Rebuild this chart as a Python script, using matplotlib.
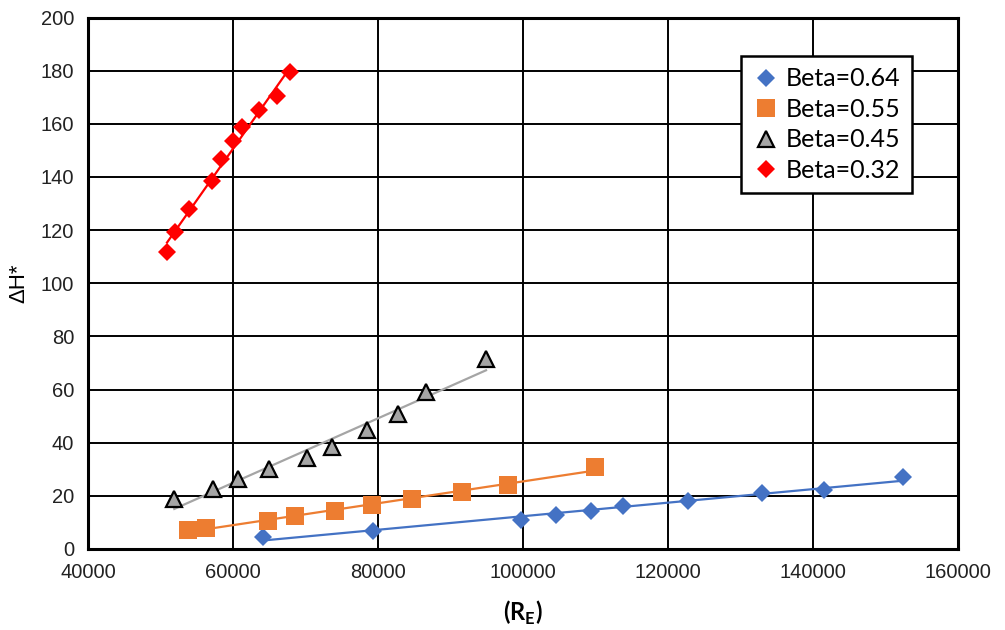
import matplotlib
matplotlib.use("Agg")
import matplotlib.pyplot as plt
import numpy as np

# Reynolds number (R_E) and dH* readings for each beta ratio
re_064 = [64200, 79300, 99700, 104500, 109400, 113800, 122800, 133000, 141500, 152400]
dh_064 = [4.6, 6.9, 10.9, 12.8, 14.4, 16.1, 18.2, 21.0, 22.2, 27.0]

re_055 = [53800, 56300, 64800, 68500, 74100, 79200, 84700, 91600, 98000, 109900]
dh_055 = [7.2, 8.0, 10.6, 12.4, 14.3, 16.6, 18.8, 21.3, 24.0, 31.0]

re_045 = [51900, 57200, 60700, 64900, 70200, 73700, 78500, 82700, 86600, 94900]
dh_045 = [18.7, 22.5, 26.3, 30.2, 34.2, 38.3, 44.6, 50.8, 59.2, 71.4]

re_032 = [50900, 52000, 54000, 57100, 58300, 60000, 61200, 63600, 66100, 67900]
dh_032 = [111.8, 119.3, 127.9, 138.3, 146.8, 153.4, 158.7, 165.3, 170.6, 179.5]

labels = ["Beta=0.64", "Beta=0.55", "Beta=0.45", "Beta=0.32"]

series = [
    (re_064, dh_064, dict(marker="D", ms=9.3, mfc="#4472C4", mec="#4472C4", mew=0), "#4472C4"),
    (re_055, dh_055, dict(marker="s", ms=12.5, mfc="#ED7D31", mec="#ED7D31", mew=0), "#ED7D31"),
    (re_045, dh_045, dict(marker="^", ms=11, mfc="#A5A5A5", mec="black", mew=1.6), "#A5A5A5"),
    (re_032, dh_032, dict(marker="D", ms=9.3, mfc="#FF0000", mec="#FF0000", mew=0), "#FF0000"),
]

fig = plt.figure(figsize=(10.05, 6.3), dpi=100)
ax = fig.add_axes([88 / 1005, 1 - 549 / 630, 870 / 1005, 531.5 / 630])

for (x, y, style, lc), lab in zip(series, labels):
    x = np.array(x, dtype=float)
    y = np.array(y, dtype=float)
    # linear trendline over the data range
    k, b = np.polyfit(x, y, 1)
    xs = np.array([x.min(), x.max()])
    ax.plot(xs, k * xs + b, color=lc, lw=1.6, zorder=2)
    ax.plot(x, y, ls="none", label=lab, zorder=3, **style)

ax.set_xlim(40000, 160000)
ax.set_ylim(0, 200)
ax.set_xticks(np.arange(40000, 160001, 20000))
ax.set_yticks(np.arange(0, 201, 20))
ax.grid(True, color="black", lw=1.4)
ax.set_axisbelow(True)
for sp in ax.spines.values():
    sp.set_linewidth(2.2)
    sp.set_color("black")
ax.tick_params(length=0, labelsize=14.5, pad=10)
for t in ax.get_xticklabels() + ax.get_yticklabels():
    t.set_fontfamily("Liberation Sans")
    t.set_color("#222222")

ax.set_ylabel("ΔH*", fontsize=16, family="Liberation Sans", labelpad=8)
ax.set_xlabel("(R$_\\mathregular{E}$)", fontsize=17, family="Lato", fontweight="bold", labelpad=12)

leg = ax.legend(loc="upper right", bbox_to_anchor=(912 / 1005, 1 - 56 / 630),
                bbox_transform=fig.transFigure, frameon=True, fancybox=False,
                prop=dict(family="Lato", size=18), handletextpad=0.25,
                handlelength=1.1, borderpad=0.45, labelspacing=0.3, borderaxespad=0)
leg.get_frame().set_edgecolor("black")
leg.get_frame().set_linewidth(1.8)
leg.get_frame().set_alpha(1)

fig.savefig("out.png", dpi=100)
